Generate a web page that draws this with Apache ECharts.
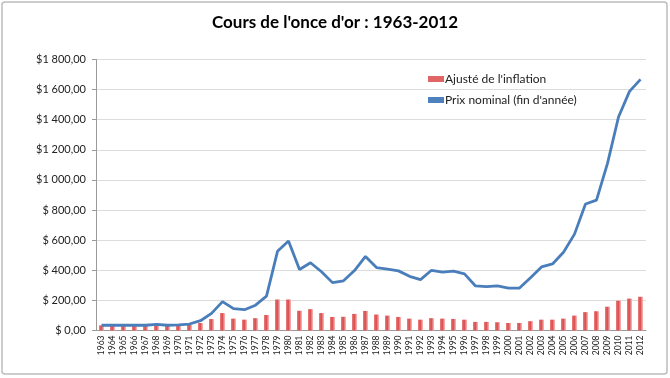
<!DOCTYPE html>
<html>
<head>
<meta charset="utf-8">
<script src="https://cdn.jsdelivr.net/npm/echarts@6/dist/echarts.min.js"></script>
<style>
  html, body { margin: 0; padding: 0; background: #fff; }
  #chart { width: 670px; height: 378px; }
</style>
</head>
<body>
<div id="chart"></div>
<script>
// années
var years = ['1963','1964','1965','1966','1967','1968','1969','1970','1971','1972',
  '1973','1974','1975','1976','1977','1978','1979','1980','1981','1982',
  '1983','1984','1985','1986','1987','1988','1989','1990','1991','1992',
  '1993','1994','1995','1996','1997','1998','1999','2000','2001','2002',
  '2003','2004','2005','2006','2007','2008','2009','2010','2011','2012'];

// ajusté de l'inflation (barres)
var ajuste = [34, 34, 34, 34, 34, 38, 33, 34, 38, 50,
  76, 116, 79, 72, 82, 103, 206, 206, 131, 142,
  116, 90, 91, 110, 130, 106, 99, 90, 79, 72,
  82, 79, 77, 72, 57, 57, 55, 50, 50, 62,
  72, 72, 79, 99, 122, 128, 158, 198, 212, 224];

// prix nominal fin d'année (ligne)
var nominal = [35, 35, 35, 35, 35, 41, 35, 37, 43, 65,
  114, 192, 145, 138, 168, 228, 526, 594, 405, 450,
  390, 318, 330, 398, 492, 418, 408, 396, 360, 338,
  400, 388, 394, 376, 296, 291, 296, 282, 282, 350,
  422, 442, 520, 640, 840, 866, 1110, 1418, 1588, 1668];

var yTicks = [0, 200, 400, 600, 800, 1000, 1200, 1400, 1600, 1800];

function fmtDollar(v) {
  if (v >= 1000) {
    var s = String(v);
    return '$' + s.slice(0, s.length - 3) + ' ' + s.slice(-3) + ',00';
  }
  return '$ ' + v + ',00';
}

var chart = echarts.init(document.getElementById('chart'));
chart.setOption({
  animation: false,
  textStyle: { fontFamily: 'Lato, "Open Sans", sans-serif' },
  graphic: [{
    type: 'rect',
    shape: { x: 2, y: 2, width: 665, height: 372, r: 3 },
    style: { fill: 'none', stroke: '#bdbdbd', lineWidth: 1.5 },
    z: 100
  }],
  title: {
    text: "Cours de l'once d'or : 1963-2012",
    left: 'center',
    top: 9,
    textStyle: { fontSize: 17, fontWeight: 'bold', color: '#000', fontFamily: 'Lato, sans-serif' }
  },
  legend: {
    orient: 'vertical',
    left: 423,
    top: 68,
    itemGap: 9,
    itemWidth: 16,
    itemHeight: 6,
    textStyle: { fontSize: 12, color: '#222', padding: [0, 0, 0, -4] },
    data: [
      { name: "Ajusté de l'inflation", icon: 'rect', itemStyle: { color: '#e06666' } },
      { name: "Prix nominal (fin d'année)", icon: 'rect', itemStyle: { color: '#4f81bd' } }
    ]
  },
  grid: { left: 96, right: 24, top: 59.5, bottom: 47.5, containLabel: false },
  xAxis: {
    type: 'category',
    data: years,
    axisLine: { lineStyle: { color: '#9a9a9a', width: 1 } },
    axisTick: { show: false },
    axisLabel: { rotate: 90, fontSize: 8.5, color: '#222', margin: 5, interval: 0 }
  },
  yAxis: {
    type: 'value',
    min: 0,
    max: 1800,
    interval: 200,
    axisLine: { show: true, lineStyle: { color: '#9a9a9a', width: 1 } },
    axisTick: { show: true, length: 4, lineStyle: { color: '#9a9a9a' } },
    splitLine: { lineStyle: { color: '#dcdcdc', width: 1 } },
    axisLabel: { fontSize: 11, color: '#222', margin: 10, formatter: fmtDollar }
  },
  series: [
    {
      name: "Ajusté de l'inflation",
      type: 'bar',
      data: ajuste,
      barWidth: '45%',
      itemStyle: {
        color: new echarts.graphic.LinearGradient(0, 0, 1, 0, [
          { offset: 0, color: '#e9817f' },
          { offset: 0.45, color: '#d9494a' },
          { offset: 1, color: '#f7bdbc' }
        ])
      }
    },
    {
      name: "Prix nominal (fin d'année)",
      type: 'line',
      data: nominal,
      symbol: 'none',
      lineStyle: { color: '#4a7ebb', width: 2.8 },
      itemStyle: { color: '#4a7ebb' },
      z: 5
    }
  ]
});
</script>
</body>
</html>
